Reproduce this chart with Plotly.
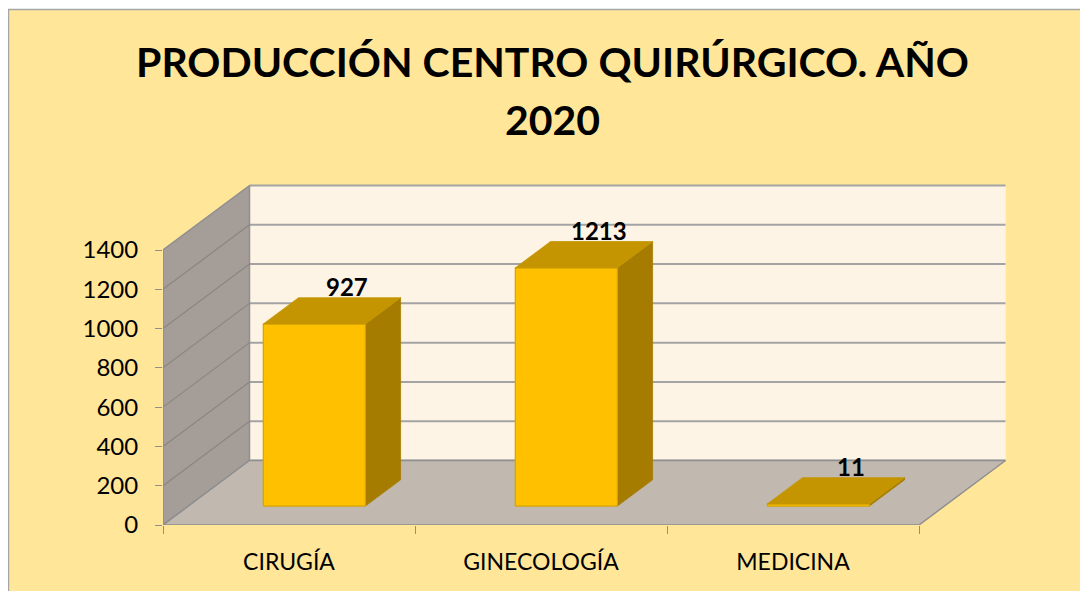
import plotly.graph_objects as go

# ---------------- data ----------------
categories = ["CIRUGÍA", "GINECOLOGÍA", "MEDICINA"]
values = [927, 1213, 11]
y_ticks = [0, 200, 400, 600, 800, 1000, 1200, 1400]
title_line1 = "PRODUCCIÓN CENTRO QUIRÚRGICO. AÑO"
title_line2 = "2020"

# ---------------- geometry / style ----------------
OFF = 8                      # browser body margin
W, H = 1088 - OFF, 591 - OFF
ML, MR, MT, MB = 163 - OFF, 81, 180 - OFF, 66
PX_PER_CAT = 252.0
PX_PER_UNIT = 275.0 / 1400.0
plot_w = W - ML - MR
plot_h = H - MT - MB
X0 = -0.5
X1 = len(categories) - 0.5
XMAX = X0 + plot_w / PX_PER_CAT
YTOP = plot_h / PX_PER_UNIT
YMAX = max(y_ticks)

DX = 86.5 / PX_PER_CAT          # depth offset (category units)
DY = 64.5 / PX_PER_UNIT         # depth offset (value units)
F0, F1 = 0.293, 0.70            # bar depth extent (fraction of depth)
HALF = 0.2025                   # half bar width (category units)

BG = "#FFE699"
WALL = "#FEF4E6"
SIDE = "#A49D98"
FLOOR = "#C1B9B0"
EDGE = "#8F8F8F"
GRID = "#A3A3A3"
BAR_FRONT = "#FFC000"
BAR_TOP = "#C49500"
BAR_SIDE = "#A67C00"
BAR_EDGE = "#D6A400"
FONT = "Lato"

fig = go.Figure()


def poly(xs, ys, fill, line_color, line_width=1.0):
    fig.add_trace(go.Scatter(
        x=list(xs) + [xs[0]], y=list(ys) + [ys[0]],
        mode="lines", fill="toself", fillcolor=fill,
        line=dict(color=line_color, width=line_width),
        hoverinfo="skip", showlegend=False))


def seg(xs, ys, color, width):
    fig.add_trace(go.Scatter(
        x=xs, y=ys, mode="lines", line=dict(color=color, width=width),
        hoverinfo="skip", showlegend=False))


# back wall
poly([X0 + DX, X1 + DX, X1 + DX, X0 + DX],
     [DY, DY, YMAX + DY, YMAX + DY], WALL, WALL, 0.5)
for v in y_ticks:
    seg([X0 + DX, X1 + DX], [v + DY, v + DY], GRID, 2)

# side wall
poly([X0, X0, X0 + DX, X0 + DX], [0, YMAX, YMAX + DY, DY], SIDE, EDGE, 1.5)
for v in y_ticks[1:-1]:
    seg([X0, X0 + DX], [v, v + DY], "#8A8682", 1.2)

# floor
poly([X0, X1, X1 + DX, X0 + DX], [0, 0, DY, DY], FLOOR, EDGE, 1.5)

# bars
ddx = (F1 - F0) * DX
ddy = (F1 - F0) * DY
for i, v in enumerate(values):
    cx = i + F0 * DX
    b0 = F0 * DY
    # side
    poly([cx + HALF, cx + HALF + ddx, cx + HALF + ddx, cx + HALF],
         [b0, b0 + ddy, b0 + v + ddy, b0 + v], BAR_SIDE, BAR_SIDE, 0.8)
    # front
    poly([cx - HALF, cx + HALF, cx + HALF, cx - HALF],
         [b0, b0, b0 + v, b0 + v], BAR_FRONT, BAR_EDGE, 1.2)
    # top
    poly([cx - HALF, cx + HALF, cx + HALF + ddx, cx - HALF + ddx],
         [b0 + v, b0 + v, b0 + v + ddy, b0 + v + ddy], BAR_TOP, BAR_TOP, 0.8)
    fig.add_annotation(x=i + F1 * DX - 0.01, y=v + F1 * DY, text=str(v),
                       showarrow=False, yanchor="middle", yshift=11,
                       font=dict(family=FONT, size=24, color="black", weight="bold"))


def px_to_paper_x(px):
    return (px - OFF - ML) / plot_w


def px_to_paper_y(py):
    return (H - MB - (py - OFF)) / plot_h


# chart area background + border
fig.add_shape(type="rect", xref="paper", yref="paper", layer="below",
              x0=px_to_paper_x(8.5), x1=px_to_paper_x(1100),
              y0=px_to_paper_y(600), y1=px_to_paper_y(9.5),
              fillcolor=BG, line=dict(color="#A6A6A6", width=1.5))

# title
fig.add_annotation(xref="paper", yref="paper", x=px_to_paper_x(552.5), y=px_to_paper_y(62),
                   text=title_line1, showarrow=False, xanchor="center", yanchor="middle",
                   font=dict(family=FONT, size=41, color="black", weight="bold"))
fig.add_annotation(xref="paper", yref="paper", x=px_to_paper_x(552.5), y=px_to_paper_y(119),
                   text=title_line2, showarrow=False, xanchor="center", yanchor="middle",
                   font=dict(family=FONT, size=41, color="black", weight="bold"))

fig.update_layout(
    width=W, height=H, autosize=False,
    margin=dict(l=ML, r=MR, t=MT, b=MB, pad=0),
    paper_bgcolor="white", plot_bgcolor="rgba(0,0,0,0)",
    showlegend=False,
    xaxis=dict(range=[X0, XMAX], tickvals=list(range(len(categories))),
               ticktext=categories, ticks="", showgrid=False, zeroline=False,
               showline=False, ticklabelstandoff=21,
               tickfont=dict(family=FONT, size=23, color="black"),
               minor=dict(tickvals=[k - 0.5 for k in range(len(categories) + 1)],
                          ticks="outside", ticklen=8, tickcolor=EDGE, tickwidth=1.2,
                          showgrid=False),
               fixedrange=True),
    yaxis=dict(range=[0, YTOP], tickvals=y_ticks, ticks="outside", ticklen=7,
               tickcolor=EDGE, tickwidth=1.2, showgrid=False, zeroline=False,
               showline=False, ticklabelstandoff=12,
               tickfont=dict(family=FONT, size=24, color="black"),
               fixedrange=True),
)

fig.write_html("out.html")
